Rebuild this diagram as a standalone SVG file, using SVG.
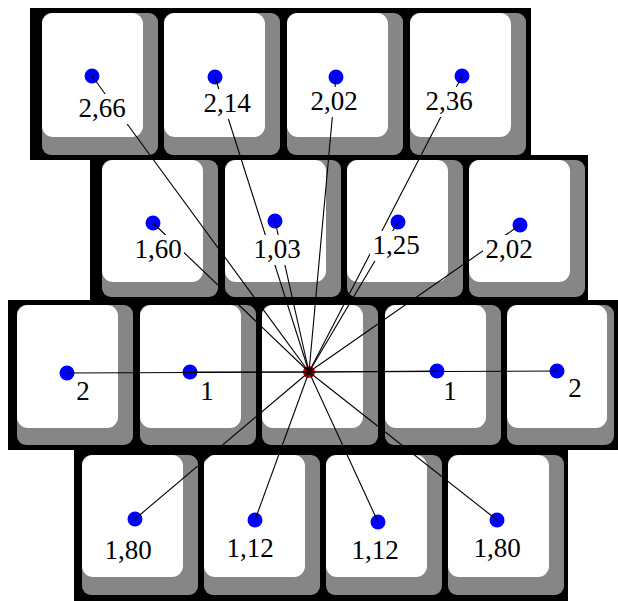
<svg xmlns="http://www.w3.org/2000/svg" width="618" height="601" viewBox="0 0 618 601">
<defs>
<style>
.bg{fill:#000}
.kg{fill:#868686}
.kw{fill:#fff}
.dot{fill:#0000ff}
.ln{stroke:#000;stroke-width:1.1;fill:none}
.lb{fill:#fff}
.tx{font-family:"Liberation Serif","Times New Roman",serif;font-size:27px;fill:#000;text-anchor:middle}
</style>
</defs>
<rect width="618" height="601" fill="#fff"/>
<g id="background">
<rect class="bg" x="30" y="8" width="501" height="152"/>
<rect class="bg" x="90" y="155" width="498" height="147"/>
<rect class="bg" x="8" y="300" width="610" height="150"/>
<rect class="bg" x="74" y="445" width="494" height="156"/>
</g>
<g id="keys">
<g id="key-r1c1"><rect class="kg" x="42" y="13" width="116" height="142" rx="9"/><rect class="kw" x="42" y="13" width="101" height="124" rx="11"/><circle class="dot" cx="92" cy="76" r="7.5"/></g>
<g id="key-r1c2"><rect class="kg" x="164" y="13" width="116" height="142" rx="9"/><rect class="kw" x="164" y="13" width="101" height="124" rx="11"/><circle class="dot" cx="215" cy="77" r="7.5"/></g>
<g id="key-r1c3"><rect class="kg" x="287" y="13" width="116" height="142" rx="9"/><rect class="kw" x="287" y="13" width="101" height="124" rx="11"/><circle class="dot" cx="336" cy="77" r="7.5"/></g>
<g id="key-r1c4"><rect class="kg" x="410" y="13" width="116" height="142" rx="9"/><rect class="kw" x="410" y="13" width="101" height="124" rx="11"/><circle class="dot" cx="462" cy="76" r="7.5"/></g>

<g id="key-r2c1"><rect class="kg" x="102" y="160" width="116" height="137" rx="9"/><rect class="kw" x="102" y="160" width="101" height="122" rx="11"/><circle class="dot" cx="153" cy="223" r="7.5"/></g>
<g id="key-r2c2"><rect class="kg" x="225" y="160" width="116" height="137" rx="9"/><rect class="kw" x="225" y="160" width="101" height="122" rx="11"/><circle class="dot" cx="275" cy="221" r="7.5"/></g>
<g id="key-r2c3"><rect class="kg" x="347" y="160" width="116" height="137" rx="9"/><rect class="kw" x="347" y="160" width="101" height="122" rx="11"/><circle class="dot" cx="398" cy="222" r="7.5"/></g>
<g id="key-r2c4"><rect class="kg" x="469" y="160" width="116" height="137" rx="9"/><rect class="kw" x="469" y="160" width="101" height="122" rx="11"/><circle class="dot" cx="520" cy="225" r="7.5"/></g>

<g id="key-r3c1"><rect class="kg" x="17" y="305" width="116" height="140" rx="9"/><rect class="kw" x="17" y="305" width="101" height="123" rx="11"/><circle class="dot" cx="67" cy="373" r="7.5"/></g>
<g id="key-r3c2"><rect class="kg" x="140" y="305" width="116" height="140" rx="9"/><rect class="kw" x="140" y="305" width="101" height="123" rx="11"/><circle class="dot" cx="190" cy="372" r="7.5"/></g>
<g id="key-r3c3"><rect class="kg" x="262" y="305" width="116" height="140" rx="9"/><rect class="kw" x="262" y="305" width="101" height="123" rx="11"/><circle cx="309" cy="372" r="6" fill="#d00000"/></g>
<g id="key-r3c4"><rect class="kg" x="385" y="305" width="116" height="140" rx="9"/><rect class="kw" x="385" y="305" width="101" height="123" rx="11"/><circle class="dot" cx="437" cy="371" r="7.5"/></g>
<g id="key-r3c5"><rect class="kg" x="507" y="305" width="107" height="140" rx="9"/><rect class="kw" x="507" y="305" width="100" height="123" rx="11"/><circle class="dot" cx="557" cy="371" r="7.5"/></g>

<g id="key-r4c1"><rect class="kg" x="82" y="455" width="116" height="140" rx="9"/><rect class="kw" x="82" y="455" width="101" height="122" rx="11"/><circle class="dot" cx="135" cy="519" r="7.5"/></g>
<g id="key-r4c2"><rect class="kg" x="204" y="455" width="116" height="140" rx="9"/><rect class="kw" x="204" y="455" width="101" height="122" rx="11"/><circle class="dot" cx="255" cy="520" r="7.5"/></g>
<g id="key-r4c3"><rect class="kg" x="326" y="455" width="116" height="140" rx="9"/><rect class="kw" x="326" y="455" width="101" height="122" rx="11"/><circle class="dot" cx="378" cy="522" r="7.5"/></g>
<g id="key-r4c4"><rect class="kg" x="448" y="455" width="116" height="140" rx="9"/><rect class="kw" x="448" y="455" width="101" height="122" rx="11"/><circle class="dot" cx="497" cy="520" r="7.5"/></g>
</g>
<g id="connectors">
<line class="ln" x1="309" y1="372" x2="92" y2="76"/>
<line class="ln" x1="309" y1="372" x2="215" y2="77"/>
<line class="ln" x1="309" y1="372" x2="336" y2="77"/>
<line class="ln" x1="309" y1="372" x2="462" y2="76"/>
<line class="ln" x1="309" y1="372" x2="153" y2="223"/>
<line class="ln" x1="309" y1="372" x2="275" y2="221"/>
<line class="ln" x1="309" y1="372" x2="398" y2="222"/>
<line class="ln" x1="309" y1="372" x2="520" y2="225"/>
<line class="ln" x1="309" y1="372" x2="67" y2="373"/>
<line class="ln" x1="309" y1="372" x2="190" y2="372"/>
<line class="ln" x1="309" y1="372" x2="437" y2="371"/>
<line class="ln" x1="309" y1="372" x2="557" y2="371"/>
<line class="ln" x1="309" y1="372" x2="135" y2="519"/>
<line class="ln" x1="309" y1="372" x2="255" y2="520"/>
<line class="ln" x1="309" y1="372" x2="378" y2="522"/>
<line class="ln" x1="309" y1="372" x2="497" y2="520"/>
</g>
<g id="labels">
<g id="lbl-r1c1"><rect class="lb" x="76" y="94" width="52" height="30"/><text class="tx" x="102" y="117">2,66</text></g>
<g id="lbl-r1c2"><rect class="lb" x="201" y="89" width="52" height="30"/><text class="tx" x="227" y="112">2,14</text></g>
<g id="lbl-r1c3"><rect class="lb" x="308" y="87" width="52" height="30"/><text class="tx" x="334" y="110">2,02</text></g>
<g id="lbl-r1c4"><rect class="lb" x="423" y="87" width="52" height="30"/><text class="tx" x="449" y="110">2,36</text></g>
<g id="lbl-r2c1"><rect class="lb" x="132" y="235" width="52" height="30"/><text class="tx" x="158" y="258">1,60</text></g>
<g id="lbl-r2c2"><rect class="lb" x="251" y="235" width="52" height="30"/><text class="tx" x="277" y="258">1,03</text></g>
<g id="lbl-r2c3"><rect class="lb" x="370" y="231" width="52" height="30"/><text class="tx" x="396" y="254">1,25</text></g>
<g id="lbl-r2c4"><rect class="lb" x="483" y="235" width="52" height="30"/><text class="tx" x="509" y="258">2,02</text></g>
<g id="lbl-r3c1"><text class="tx" x="83" y="400">2</text></g>
<g id="lbl-r3c2"><text class="tx" x="207" y="400">1</text></g>
<g id="lbl-r3c4"><text class="tx" x="450" y="400">1</text></g>
<g id="lbl-r3c5"><text class="tx" x="575" y="397">2</text></g>
<g id="lbl-r4c1"><rect class="lb" x="102" y="536" width="52" height="30"/><text class="tx" x="128" y="559">1,80</text></g>
<g id="lbl-r4c2"><rect class="lb" x="224" y="534" width="52" height="30"/><text class="tx" x="250" y="557">1,12</text></g>
<g id="lbl-r4c3"><rect class="lb" x="349" y="536" width="52" height="30"/><text class="tx" x="375" y="559">1,12</text></g>
<g id="lbl-r4c4"><rect class="lb" x="471" y="534" width="52" height="30"/><text class="tx" x="497" y="557">1,80</text></g>
</g>
</svg>
